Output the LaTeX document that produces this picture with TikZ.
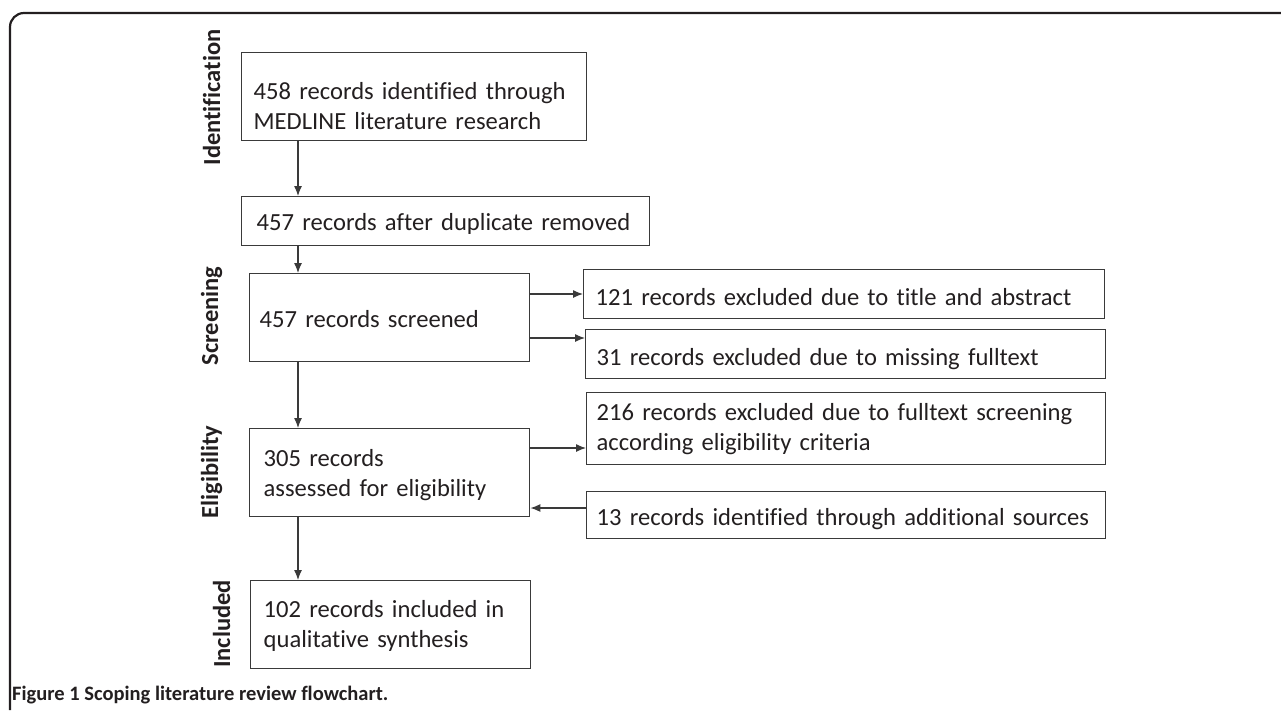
\documentclass[tikz,border=0pt]{standalone}
\usepackage{fontspec}
\setmainfont{Carlito}[Ligatures=NoCommon]
\usetikzlibrary{arrows.meta}
\definecolor{ink}{HTML}{231F20}
\definecolor{linec}{HTML}{3A3A3A}
\begin{document}
\begin{tikzpicture}[x=1pt,y=-1pt,
  box/.style={draw=linec, line width=1.4pt, anchor=north west, inner ysep=0pt,
    align=left, text=ink, font=\fontsize{24.6}{30}\selectfont},
  phase/.style={rotate=90, anchor=base, text=ink, font=\fontsize{24.5}{28}\selectfont\bfseries},
  arr/.style={draw=linec, line width=1.2pt, -{Latex[length=10pt,width=8pt]}}]
\useasboundingbox (0,0) rectangle (1281,710);
% frame
\draw[draw=ink, line width=2.2pt, rounded corners=14pt] (10,710) -- (10,13) -- (1281,13);
% phase labels
\node[phase] (pid) at (220,97.5) {Identification};
\node[phase] (psc) at (218,316) {Screening};
\node[phase] (pel) at (218,472) {Eligibility};
\node[phase] (pin) at (230,624) {Included};
% boxes
\node[box, text width=321pt, inner xsep=12pt, minimum height=88pt, text height=31pt, text depth=25pt] (b1) at (241,52)
  {\mbox{458 records identified through}\\\mbox{MEDLINE literature research}};
\node[box, text width=378pt, inner xsep=15pt, minimum height=49pt, text height=28pt, text depth=9pt] (b2) at (241,196)
  {\mbox{457 records after duplicate removed}};
\node[box, text width=260pt, inner xsep=10pt, minimum height=88pt, text height=30pt, text depth=10pt] (b3) at (249,273)
  {\mbox{457 records screened}};
\node[box, text width=497pt, inner xsep=12pt, minimum height=49pt, text height=30pt, text depth=7pt] (b4) at (583,269)
  {\mbox{121 records excluded due to title and abstract}};
\node[box, text width=498pt, inner xsep=11pt, minimum height=49pt, text height=30pt, text depth=7pt] (b5) at (585,329)
  {\mbox{31 records excluded due to missing fulltext}};
\node[box, text width=499pt, inner xsep=10pt, minimum height=72pt, text height=19pt, text depth=35pt] (b6) at (586,392)
  {\mbox{216 records excluded due to fulltext screening}\\\mbox{according eligibility criteria}};
\node[box, text width=499pt, inner xsep=10pt, minimum height=47pt, text height=29pt, text depth=9pt] (b7) at (586,491)
  {\mbox{13 records identified through additional sources}};
\node[box, text width=252pt, inner xsep=14pt, minimum height=88pt, text height=21pt, text depth=33pt] (b8) at (249,428)
  {\mbox{305 records}\\\mbox{assessed for eligibility}};
\node[box, text width=254pt, inner xsep=13pt, minimum height=88pt, text height=20pt, text depth=34pt] (b9) at (250,580)
  {\mbox{102 records included in}\\\mbox{qualitative synthesis}};
% helper coordinates
\coordinate (vx) at (298,0);
\coordinate (ya) at (0,294);
\coordinate (yb) at (0,338);
\coordinate (yc) at (0,448);
\coordinate (yd) at (0,508);
% connectors
\draw[arr] (b1.south -| vx) -- (b2.north -| vx);
\draw[arr] (b2.south -| vx) -- (b3.north -| vx);
\draw[arr] (b3.south -| vx) -- (b8.north -| vx);
\draw[arr] (b8.south -| vx) -- (b9.north -| vx);
\draw[arr] (b3.east |- ya) -- (b4.west |- ya);
\draw[arr] (b3.east |- yb) -- (b5.west |- yb);
\draw[arr] (b8.east |- yc) -- (b6.west |- yc);
\draw[arr] (b7.west |- yd) -- (b8.east |- yd);
% caption
\node[anchor=base west, text=ink, inner sep=0pt, font=\fontsize{20.5}{24}\selectfont\bfseries] (cap) at (12,700)
  {Figure 1 Scoping literature review flowchart.};
\end{tikzpicture}
\end{document}
